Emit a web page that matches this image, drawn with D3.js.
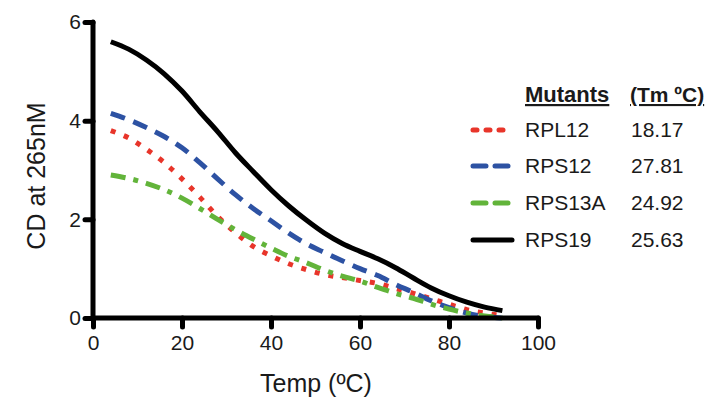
<!DOCTYPE html>
<html>
<head>
<meta charset="utf-8">
<title>CD melt</title>
<script src="https://d3js.org/d3.v7.min.js"></script>
<style>
  body { margin: 0; background: #fff; }
  text { font-family: "Liberation Sans", Arial, sans-serif; fill: #1a1a1a; }
</style>
</head>
<body>
<script>
// temperatures (ºC)
const temps = [4, 8, 12, 16, 20, 24, 28, 32, 36, 40, 44, 48, 52, 56, 60, 64, 68, 72, 76, 80, 84, 88, 92]
// CD at 265nM
const rpl12  = [3.8, 3.65, 3.42, 3.15, 2.82, 2.45, 2.06, 1.73, 1.45, 1.26, 1.1, 0.98, 0.88, 0.82, 0.76, 0.7, 0.6, 0.5, 0.39, 0.28, 0.17, 0.1, 0.05]
const rps12  = [4.15, 4.02, 3.86, 3.68, 3.45, 3.15, 2.82, 2.5, 2.22, 1.97, 1.72, 1.5, 1.33, 1.16, 1.0, 0.86, 0.68, 0.52, 0.35, 0.21, 0.1, 0.03, 0.0]
const rps13a = [2.9, 2.83, 2.73, 2.6, 2.43, 2.22, 2.0, 1.79, 1.6, 1.42, 1.25, 1.12, 0.97, 0.85, 0.75, 0.62, 0.5, 0.4, 0.28, 0.18, 0.1, 0.04, 0.0]
const rps19  = [5.6, 5.45, 5.23, 4.95, 4.6, 4.18, 3.78, 3.35, 2.97, 2.6, 2.27, 1.98, 1.72, 1.51, 1.35, 1.2, 1.02, 0.81, 0.61, 0.45, 0.32, 0.22, 0.15]

const names = ["RPL12", "RPS12", "RPS13A", "RPS19"]
const tms = ["18.17", "27.81", "24.92", "25.63"]
const xTicks = [0, 20, 40, 60, 80, 100]
const yTicks = [0, 2, 4, 6]

const styles = [
  { color: "#e8352a", dash: "5,9" },
  { color: "#2d52a3", dash: "15,9" },
  { color: "#62b43a", dash: "15,8,5,8" },
  { color: "#000000", dash: null }
]
const series = [rpl12, rps12, rps13a, rps19]

const W = 723, H = 403
const svg = d3.select("body").append("svg").attr("width", W).attr("height", H)

const x = d3.scaleLinear().domain([0, 100]).range([93, 538])
const y = d3.scaleLinear().domain([0, 6]).range([318, 22])

// lines
const line = d3.line()
  .x((d, i) => x(temps[i]))
  .y(d => y(d))
  .curve(d3.curveMonotoneX)

series.forEach((s, k) => {
  svg.append("path")
    .attr("d", line(s))
    .attr("fill", "none")
    .attr("stroke", styles[k].color)
    .attr("stroke-width", 5)
    .attr("stroke-dasharray", styles[k].dash)
})

// axes
const xAxis = svg.append("g").attr("transform", "translate(0,318)")
  .call(d3.axisBottom(x).tickValues(xTicks).tickSize(9).tickPadding(8))
const yAxis = svg.append("g").attr("transform", "translate(93,0)")
  .call(d3.axisLeft(y).tickValues(yTicks).tickFormat(d3.format("d")).tickSize(8).tickPadding(4))

;[xAxis, yAxis].forEach(g => {
  g.select(".domain").attr("stroke", "#000").attr("stroke-width", 5).attr("stroke-linecap", "round")
  g.selectAll(".tick line").attr("stroke", "#000").attr("stroke-width", 5).attr("stroke-linecap", "round")
  g.selectAll(".tick text").attr("font-size", 21).attr("fill", "#1a1a1a")
    .style("font-family", "'Liberation Sans', Arial, sans-serif")
})
xAxis.select(".domain").attr("d", "M" + x(0) + ",0H" + x(100))
yAxis.select(".domain").attr("d", "M0," + y(0) + "V" + y(6))

// axis titles
svg.append("text").attr("x", 316).attr("y", 392).attr("text-anchor", "middle")
  .attr("font-size", 25).text("Temp (ºC)")
svg.append("text").attr("transform", "translate(45,176) rotate(-90)").attr("text-anchor", "middle")
  .attr("font-size", 25).text("CD at 265nM")

// legend
const lg = svg.append("g")
lg.append("text").attr("x", 525).attr("y", 102).attr("font-size", 22).attr("font-weight", "bold")
  .attr("text-decoration", "underline").text("Mutants")
lg.append("text").attr("x", 630).attr("y", 102).attr("font-size", 21).attr("font-weight", "bold")
  .attr("text-decoration", "underline").text("(Tm ºC)")

const rowY = [130, 166, 203, 240]
names.forEach((n, k) => {
  lg.append("line").attr("x1", 473).attr("x2", 512).attr("y1", rowY[k]).attr("y2", rowY[k])
    .attr("stroke", styles[k].color).attr("stroke-width", 5).attr("stroke-linecap", "round")
    .attr("stroke-dasharray", k === 3 ? null : (k === 0 ? "4,9" : "13,9"))
  lg.append("text").attr("x", 525).attr("y", rowY[k] + 7).attr("font-size", 21).text(n)
  lg.append("text").attr("x", 631).attr("y", rowY[k] + 7).attr("font-size", 21).text(tms[k])
})
</script>
</body>
</html>
